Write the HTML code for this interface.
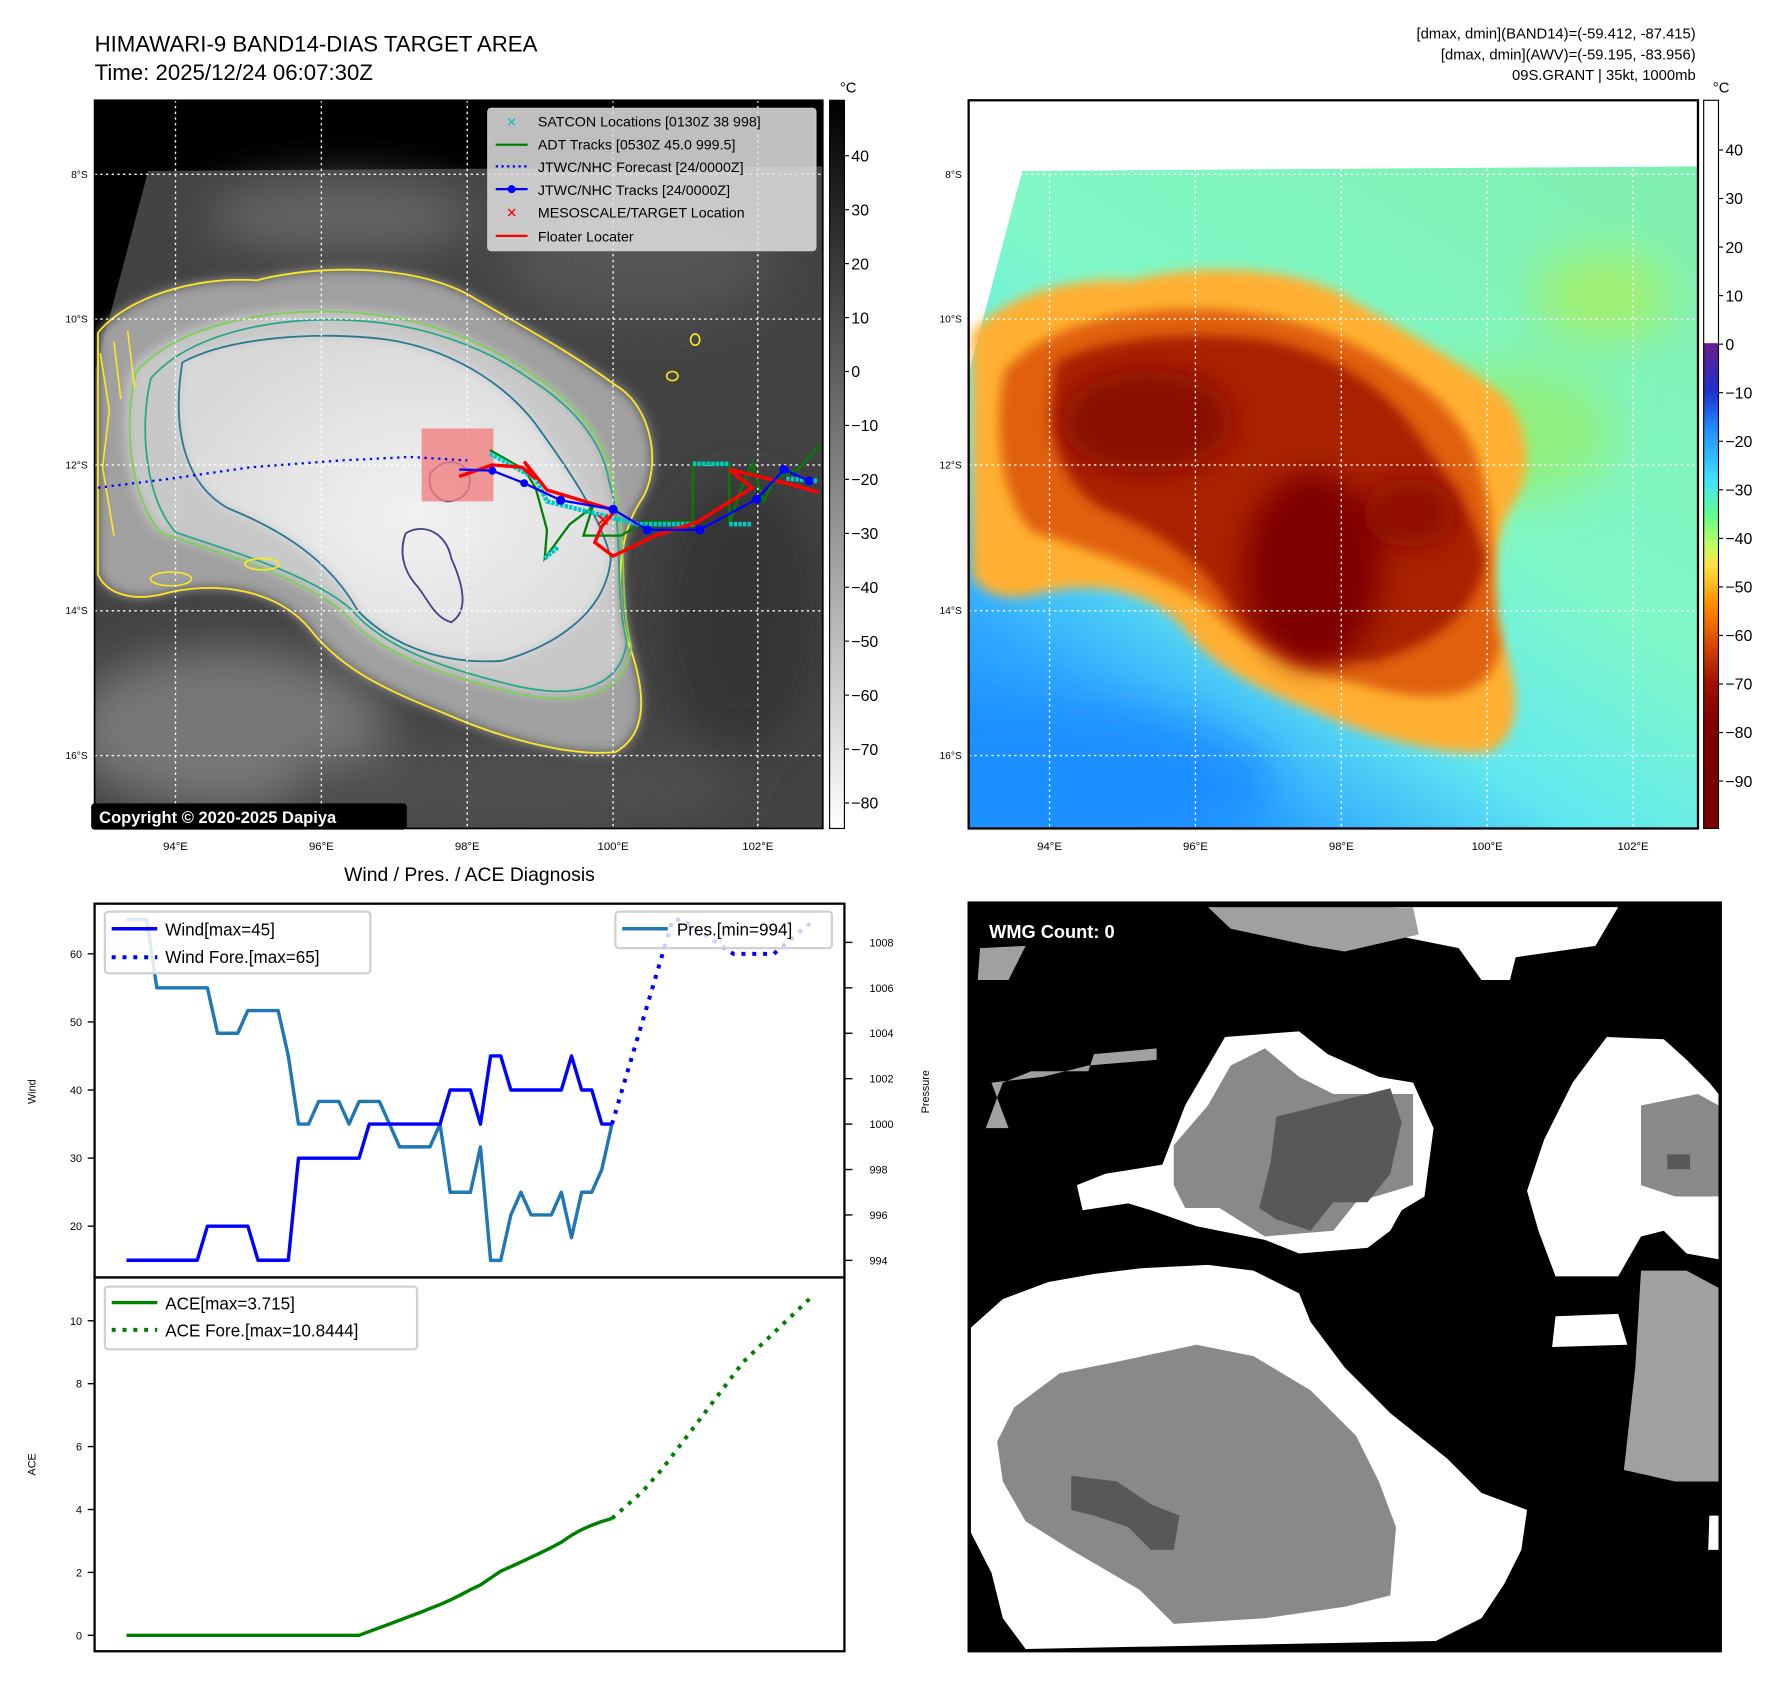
<!DOCTYPE html>
<html><head><meta charset="utf-8"><style>
html,body{margin:0;padding:0;background:#fff;}
svg{display:block;font-family:"Liberation Sans","DejaVu Sans",sans-serif;}
</style></head><body>
<svg id="root" width="1788" height="1690" viewBox="0 0 1569 1483" xmlns="http://www.w3.org/2000/svg">
<defs>
  <filter id="blur6" x="-20%" y="-20%" width="140%" height="140%"><feGaussianBlur stdDeviation="5"/></filter>
  <filter id="blur12" x="-20%" y="-20%" width="140%" height="140%"><feGaussianBlur stdDeviation="12"/></filter>
  <filter id="blur20" x="-30%" y="-30%" width="160%" height="160%"><feGaussianBlur stdDeviation="20"/></filter>
  <clipPath id="clipL"><rect x="83" y="88" width="639" height="639"/></clipPath>
  <clipPath id="clipR"><rect x="850" y="88" width="640" height="639"/></clipPath>
  <clipPath id="clipC"><rect x="83" y="793" width="658" height="656"/></clipPath>
  <path id="swath" d="M130,150 L722,146 L722,727 L83,727 L83,328 Z"/>
  <path id="outer" d="M86,292 C110,262 170,242 225,246 C280,232 360,232 410,258 C450,282 500,308 540,338 C572,356 582,410 562,440 C542,470 540,520 550,560 C565,600 572,642 540,660 C500,664 440,648 390,626 C340,606 300,588 272,552 C244,518 190,508 140,522 C110,528 92,518 86,504 Z"/>
  <path id="mid" d="M115,325 C150,285 225,268 300,272 C362,275 420,296 462,326 C500,350 528,382 534,420 C548,462 538,520 550,565 C545,610 500,618 448,606 C390,592 330,574 298,536 C262,505 192,484 138,466 C110,436 104,370 115,325 Z"/>
  <path id="core" d="M160,318 C200,296 280,290 340,298 C392,306 440,333 470,372 C496,408 526,450 536,490 C532,536 490,566 440,580 C390,583 345,568 314,536 C294,500 260,470 200,446 C164,426 150,380 160,318 Z"/>
  <path id="deep1" d="M356,468 C372,458 392,468 396,490 C406,512 412,536 396,546 C380,542 374,522 364,512 C354,500 350,484 356,468 Z"/>
  <path id="deep2" d="M378,415 C390,400 408,404 412,418 C414,432 404,440 392,440 C382,438 374,428 378,415 Z"/>
  <linearGradient id="cbGray" x1="0" y1="0" x2="0" y2="1"><stop offset="0" stop-color="#000"/><stop offset="1" stop-color="#fff"/></linearGradient>
  <linearGradient id="cbColor" x1="0" y1="0" x2="0" y2="1">
    <stop offset="0" stop-color="#ffffff"/><stop offset="0.333" stop-color="#ffffff"/>
    <stop offset="0.334" stop-color="#6a1e8a"/><stop offset="0.40" stop-color="#2030d0"/>
    <stop offset="0.45" stop-color="#1e8cff"/><stop offset="0.52" stop-color="#40e0ff"/>
    <stop offset="0.57" stop-color="#60ff90"/><stop offset="0.61" stop-color="#c0ff60"/>
    <stop offset="0.64" stop-color="#ffe040"/><stop offset="0.69" stop-color="#ff9000"/>
    <stop offset="0.74" stop-color="#e05000"/><stop offset="0.80" stop-color="#a01000"/>
    <stop offset="0.86" stop-color="#800000"/><stop offset="1" stop-color="#7a0000"/>
  </linearGradient>
  <linearGradient id="bgR" x1="0.9" y1="0" x2="0.2" y2="1">
    <stop offset="0" stop-color="#80f0b0"/><stop offset="0.45" stop-color="#80f8c8"/>
    <stop offset="0.7" stop-color="#60e8f0"/><stop offset="0.88" stop-color="#30a8ff"/><stop offset="1" stop-color="#1e90ff"/>
  </linearGradient>
  <radialGradient id="coreL" cx="0.55" cy="0.55" r="0.6"><stop offset="0" stop-color="#f2f2f2"/><stop offset="1" stop-color="#d8d8d8"/></radialGradient>
</defs>

<!-- Titles -->
<text x="83" y="45" font-size="19.5" fill="#000">HIMAWARI-9 BAND14-DIAS TARGET AREA</text>
<text x="83" y="70" font-size="19.5" fill="#000">Time: 2025/12/24 06:07:30Z</text>
<g font-size="13" text-anchor="end" fill="#000">
  <text x="1488" y="34">[dmax, dmin](BAND14)=(-59.412, -87.415)</text>
  <text x="1488" y="52">[dmax, dmin](AWV)=(-59.195, -83.956)</text>
  <text x="1488" y="70">09S.GRANT | 35kt, 1000mb</text>
</g>

<!-- LEFT MAP -->
<g clip-path="url(#clipL)">
  <rect x="83" y="88" width="639" height="639" fill="#000"/>
  <use href="#swath" fill="#434343"/>
  <g filter="url(#blur20)">
    <ellipse cx="300" cy="190" rx="120" ry="30" fill="#666"/>
    <ellipse cx="560" cy="230" rx="120" ry="50" fill="#555"/>
    <ellipse cx="200" cy="640" rx="140" ry="70" fill="#777"/>
    <ellipse cx="650" cy="540" rx="70" ry="120" fill="#363636"/>
    <ellipse cx="450" cy="690" rx="200" ry="40" fill="#505050"/>
  </g>
  <use href="#outer" fill="#a0a0a0" filter="url(#blur6)"/>
  <use href="#mid" fill="#c8c8c8" filter="url(#blur6)"/>
  <use href="#core" fill="url(#coreL)" filter="url(#blur6)"/>
  <g fill="none" stroke-width="1.6">
    <use href="#outer" stroke="#fde725"/>
    <use href="#mid" stroke="#7ad151" transform="translate(4,2)"/>
    <use href="#mid" stroke="#22a884" transform="translate(22,20) scale(0.96)"/>
    <use href="#core" stroke="#2a788e"/>
    <use href="#deep1" stroke="#414487"/>
    <use href="#deep2" stroke="#414487"/>
  </g>
  <g fill="none" stroke="#fde725" stroke-width="1.4">
    <path d="M88,310 L96,360 L90,410 L100,470 M100,300 L106,350 M112,290 L118,340"/>
    <ellipse cx="150" cy="508" rx="18" ry="6"/><ellipse cx="230" cy="495" rx="15" ry="5"/>
    <ellipse cx="610" cy="298" rx="4" ry="5"/><ellipse cx="590" cy="330" rx="5" ry="4"/>
  </g>
  <g stroke="#fff" stroke-width="1.2" stroke-dasharray="2,3">
    <line x1="154" y1="88" x2="154" y2="727"/><line x1="282" y1="88" x2="282" y2="727"/>
    <line x1="410" y1="88" x2="410" y2="727"/><line x1="538" y1="88" x2="538" y2="727"/>
    <line x1="665" y1="88" x2="665" y2="727"/>
    <line x1="83" y1="153" x2="722" y2="153"/><line x1="83" y1="280" x2="722" y2="280"/>
    <line x1="83" y1="408" x2="722" y2="408"/><line x1="83" y1="536" x2="722" y2="536"/>
    <line x1="83" y1="663" x2="722" y2="663"/>
  </g>
  <rect x="370" y="376" width="63" height="64" fill="#f08080" opacity="0.8"/>
  <polyline points="86,428 150,420 220,410 300,404 360,401 410,404" fill="none" stroke="#0000ff" stroke-width="2" stroke-dasharray="2,4"/>
  <polyline points="430,395 460,412 470,428 480,465 478,490 500,460 520,445 512,470 545,470 565,458 608,458 608,407 640,407 640,460 650,430 660,407 670,440 680,420 700,412 718,392" fill="none" stroke="#008000" stroke-width="2"/>
  <g>
    <path d="M430,398 L470,420 L480,440 L520,450 L560,460 L610,460 M608,407 L640,407 M640,460 L660,460 M690,420 L718,422 M478,490 L490,480" stroke="#00c8c8" stroke-width="4" stroke-dasharray="3,1" fill="none"/>
  </g>
  <polyline points="403,418 432,408 458,410 470,420 460,405 480,430 500,436 540,448 528,462 522,476 538,488 575,470 612,458 660,428 640,412 690,424 718,432" fill="none" stroke="#ff0000" stroke-width="3"/>
  <polyline points="403,412 432,413 460,424 492,439 538,447 568,465 614,465 664,438 688,412 710,422" fill="none" stroke="#0000ff" stroke-width="2"/>
  <g fill="#0000ff">
    <circle cx="432" cy="413" r="3.5"/><circle cx="460" cy="424" r="3.5"/><circle cx="492" cy="439" r="4"/>
    <circle cx="538" cy="447" r="4"/><circle cx="568" cy="465" r="4"/><circle cx="614" cy="465" r="4"/>
    <circle cx="664" cy="438" r="4"/><circle cx="688" cy="412" r="4"/><circle cx="710" cy="422" r="4"/>
  </g>
  <text x="529" y="462" font-size="16" font-weight="bold" fill="#ff0000" text-anchor="middle">✕</text>
</g>
<rect x="83" y="88" width="639" height="639" fill="none" stroke="#000" stroke-width="1.5"/>

<g>
  <rect x="428" y="95" width="288" height="125" rx="3" fill="#e0e0e0" fill-opacity="0.85" stroke="#ccc"/>
  <g font-size="12.5" fill="#000">
    <text x="449" y="111" fill="#00c0c0" font-weight="bold" text-anchor="middle" font-size="11">✕</text>
    <text x="472" y="111">SATCON Locations [0130Z 38 998]</text>
    <line x1="435" y1="127" x2="463" y2="127" stroke="#008000" stroke-width="2"/>
    <text x="472" y="131">ADT Tracks [0530Z 45.0 999.5]</text>
    <line x1="435" y1="146" x2="463" y2="146" stroke="#0000ff" stroke-width="2" stroke-dasharray="2,3"/>
    <text x="472" y="151">JTWC/NHC Forecast [24/0000Z]</text>
    <line x1="435" y1="166" x2="463" y2="166" stroke="#0000ff" stroke-width="2"/><circle cx="449" cy="166" r="3.5" fill="#0000ff"/>
    <text x="472" y="171">JTWC/NHC Tracks [24/0000Z]</text>
    <text x="449" y="191" fill="#ff0000" font-weight="bold" text-anchor="middle" font-size="12">✕</text>
    <text x="472" y="191">MESOSCALE/TARGET Location</text>
    <line x1="435" y1="207" x2="463" y2="207" stroke="#ff0000" stroke-width="2"/>
    <text x="472" y="212">Floater Locater</text>
  </g>
</g>
<rect x="80" y="705" width="277" height="23" rx="3" fill="#000"/>
<text x="87" y="722" font-size="14.5" font-weight="bold" fill="#fff">Copyright © 2020-2025 Dapiya</text>

<g font-size="9" fill="#000" text-anchor="end">
  <text x="77" y="156">8°S</text><text x="77" y="283">10°S</text><text x="77" y="411">12°S</text><text x="77" y="539">14°S</text><text x="77" y="666">16°S</text>
</g>
<g font-size="9" fill="#000" text-anchor="end">
  <text x="844" y="156">8°S</text><text x="844" y="283">10°S</text><text x="844" y="411">12°S</text><text x="844" y="539">14°S</text><text x="844" y="666">16°S</text>
</g>
<g font-size="10" fill="#000" text-anchor="middle">
  <text x="154" y="746">94°E</text><text x="282" y="746">96°E</text><text x="410" y="746">98°E</text><text x="538" y="746">100°E</text><text x="665" y="746">102°E</text>
</g>
<g font-size="10" fill="#000" text-anchor="middle">
  <text x="921" y="746">94°E</text><text x="1049" y="746">96°E</text><text x="1177" y="746">98°E</text><text x="1305" y="746">100°E</text><text x="1433" y="746">102°E</text>
</g>

<rect x="728" y="88" width="13" height="639" fill="url(#cbGray)" stroke="#000" stroke-width="1"/>
<text x="737" y="81" font-size="13">°C</text>
<g id="cbLTicks" font-size="14" fill="#000"></g>

<!-- RIGHT MAP -->
<g clip-path="url(#clipR)">
  <rect x="850" y="88" width="640" height="639" fill="#fff"/>
  <g transform="translate(767,0)">
    <use href="#swath" fill="url(#bgR)"/>
    <g filter="url(#blur20)">
      <ellipse cx="560" cy="380" rx="90" ry="60" fill="#90f080"/>
      <ellipse cx="150" cy="690" rx="200" ry="70" fill="#1e90ff"/>
      <ellipse cx="640" cy="260" rx="60" ry="40" fill="#a0f070"/>
    </g>
    <use href="#outer" fill="#ffb030" filter="url(#blur6)"/>
    <use href="#mid" fill="#e06010" filter="url(#blur6)"/>
    <use href="#core" fill="#a82000" filter="url(#blur6)"/>
    <g filter="url(#blur12)">
      <ellipse cx="385" cy="500" rx="60" ry="85" fill="#800000"/>
      <ellipse cx="240" cy="370" rx="75" ry="45" fill="#8a0800"/>
      <ellipse cx="470" cy="450" rx="40" ry="30" fill="#901000"/>
    </g>
  </g>
  <g stroke="#fff" stroke-width="1.2" stroke-dasharray="2,3">
    <line x1="921" y1="88" x2="921" y2="727"/><line x1="1049" y1="88" x2="1049" y2="727"/>
    <line x1="1177" y1="88" x2="1177" y2="727"/><line x1="1305" y1="88" x2="1305" y2="727"/>
    <line x1="1433" y1="88" x2="1433" y2="727"/>
    <line x1="850" y1="153" x2="1490" y2="153"/><line x1="850" y1="280" x2="1490" y2="280"/>
    <line x1="850" y1="408" x2="1490" y2="408"/><line x1="850" y1="536" x2="1490" y2="536"/>
    <line x1="850" y1="663" x2="1490" y2="663"/>
  </g>
</g>
<rect x="850" y="88" width="640" height="639" fill="none" stroke="#000" stroke-width="2"/>
<rect x="1495" y="88" width="13" height="639" fill="url(#cbColor)" stroke="#000" stroke-width="1"/>
<text x="1503" y="81" font-size="13">°C</text>
<g id="cbRTicks" font-size="14" fill="#000"></g>

<!-- WMG panel -->
<g>
  <rect x="850" y="792" width="660" height="657" fill="#000"/>
  <g fill="#fff">
    <polygon points="852,1165 880,1140 920,1125 960,1118 1000,1113 1060,1110 1100,1115 1140,1135 1150,1160 1180,1200 1220,1240 1270,1280 1300,1310 1340,1325 1335,1360 1320,1390 1300,1420 1260,1440 900,1447 880,1420 870,1380 852,1345"/>
    <polygon points="1075,910 1140,905 1165,925 1210,945 1240,950 1258,990 1250,1050 1230,1062 1220,1080 1200,1095 1140,1100 1110,1088 1050,1076 1010,1062 990,1056 950,1062 945,1040 970,1030 1020,1022 1040,970"/>
    <polygon points="1410,910 1460,912 1480,930 1500,950 1508,960 1508,1105 1480,1100 1460,1080 1440,1085 1420,1120 1365,1120 1350,1080 1340,1045 1355,1000 1380,950 1395,930"/>
    <polygon points="1365,1155 1420,1153 1428,1180 1362,1182"/>
    <polygon points="1500,1330 1508,1330 1508,1360 1499,1360"/>
    <polygon points="1225,796 1420,796 1400,830 1330,840 1325,860 1300,860 1280,832 1230,822"/>
  </g>
  <g fill="#898989">
    <polygon points="875,1265 890,1235 930,1205 980,1195 1050,1180 1100,1190 1150,1220 1190,1260 1210,1300 1225,1340 1220,1400 1180,1410 1110,1420 1030,1425 1000,1395 940,1360 900,1335 880,1300"/>
    <polygon points="1030,1005 1060,970 1080,935 1110,920 1140,945 1170,960 1240,960 1240,1040 1190,1055 1170,1080 1110,1085 1070,1060 1040,1060 1030,1040"/>
    <polygon points="1440,970 1490,960 1508,970 1508,1050 1470,1050 1440,1040 1440,1000"/>
  </g>
  <g fill="#a0a0a0">
    <polygon points="1440,1115 1480,1115 1508,1130 1508,1300 1470,1300 1425,1290 1435,1200"/>
    <polygon points="1060,796 1240,796 1245,820 1180,835 1150,830 1080,815"/>
    <polygon points="860,832 900,830 885,860 858,860"/>
    <polygon points="870,950 915,945 955,935 1015,930 1015,920 960,925 955,940 905,940 880,950 865,990 885,990"/>
  </g>
  <g fill="#585858">
    <polygon points="1120,980 1160,970 1220,955 1230,985 1220,1030 1200,1055 1170,1055 1150,1080 1120,1070 1105,1060 1115,1020"/>
    <polygon points="940,1295 980,1300 1010,1320 1035,1330 1030,1360 1010,1360 990,1340 960,1330 940,1325"/>
    <rect x="1463" y="1013" width="20" height="13"/>
  </g>
  <rect x="850" y="792" width="660" height="657" fill="none" stroke="#000" stroke-width="2"/>
  <text x="868" y="823" font-size="16" font-weight="bold" fill="#fff">WMG Count: 0</text>
</g>

<!-- Diagnosis chart -->
<text x="412" y="773" font-size="17" text-anchor="middle" fill="#000">Wind / Pres. / ACE Diagnosis</text>
<g id="chart">
  <rect x="83" y="793" width="658" height="328" fill="#fff" stroke="#000" stroke-width="2"/>
  <rect x="83" y="1121" width="658" height="328" fill="#fff" stroke="#000" stroke-width="2"/>
  <g id="axes" font-size="9.5" fill="#000"></g>
  <g id="marks" clip-path="url(#clipC)"></g>
  <text transform="translate(31,958) rotate(-90)" font-size="9.5" text-anchor="middle">Wind</text>
  <text transform="translate(815,958) rotate(-90)" font-size="9.5" text-anchor="middle">Pressure</text>
  <text transform="translate(31,1285) rotate(-90)" font-size="9.5" text-anchor="middle">ACE</text>
  <g>
    <rect x="92" y="800" width="233" height="54" rx="3" fill="#fff" fill-opacity="0.85" stroke="#d0d0d0" stroke-width="2"/>
    <line x1="98" y1="815" x2="138" y2="815" stroke="#0000ff" stroke-width="3"/>
    <text x="145" y="821" font-size="15">Wind[max=45]</text>
    <line x1="98" y1="840" x2="138" y2="840" stroke="#0000ff" stroke-width="3.5" stroke-dasharray="3.5,6"/>
    <text x="145" y="845" font-size="15">Wind Fore.[max=65]</text>
  </g>
  <g>
    <rect x="540" y="800" width="190" height="32" rx="3" fill="#fff" fill-opacity="0.8" stroke="#d0d0d0" stroke-width="2"/>
    <line x1="546" y1="815" x2="586" y2="815" stroke="#1f77b4" stroke-width="3"/>
    <text x="594" y="821" font-size="15">Pres.[min=994]</text>
  </g>
  <g>
    <rect x="92" y="1129" width="274" height="55" rx="3" fill="#fff" fill-opacity="0.85" stroke="#d0d0d0" stroke-width="2"/>
    <line x1="98" y1="1143" x2="138" y2="1143" stroke="#008000" stroke-width="3"/>
    <text x="145" y="1149" font-size="15">ACE[max=3.715]</text>
    <line x1="98" y1="1167" x2="138" y2="1167" stroke="#008000" stroke-width="3.5" stroke-dasharray="3.5,6"/>
    <text x="145" y="1173" font-size="15">ACE Fore.[max=10.8444]</text>
  </g>
</g>

<script>
const windVals = [15,15,15,15,15,15,15,15,20,20,20,20,20,15,15,15,15,30,30,30,30,30,30,30,35,35,35,35,35,35,35,35,40,40,40,35,45,45,40,40,40,40,40,40,45,40,40,35,35];
const presVals = [1009,1009,1009,1006,1006,1006,1006,1006,1006,1004,1004,1004,1005,1005,1005,1005,1003,1000,1000,1001,1001,1001,1000,1001,1001,1001,1000,999,999,999,999,1000,997,997,997,999,994,994,996,997,996,996,996,997,995,997,997,998,1000];
const aceVals = [0,0,0,0,0,0,0,0,0,0,0,0,0,0,0,0,0,0,0,0,0,0,0,0,0.12,0.24,0.36,0.48,0.6,0.72,0.85,0.98,1.12,1.28,1.45,1.6,1.82,2.04,2.18,2.33,2.48,2.63,2.79,2.96,3.18,3.36,3.5,3.62,3.715];
const windForeX = [48,54,55,60,64,68];
const windForeVals = [35,65,65,60,60,65];
const aceForeX = [48,51,53,57,61,68];
const aceForeVals = [3.715,4.56,5.3,7.0,8.7,10.84];
const windTicks = [20,30,40,50,60];
const presTicks = [994,996,998,1000,1002,1004,1006,1008];
const aceTicks = [0,2,4,6,8,10];
const cbLeftTicks = [40,30,20,10,0,-10,-20,-30,-40,-50,-60,-70,-80];
const cbRightTicks = [40,30,20,10,0,-10,-20,-30,-40,-50,-60,-70,-80,-90];

const NS='http://www.w3.org/2000/svg';
function xs(i){return 111 + i*8.875;}
function yw(v){return 1076 - (v-20)*5.975;}
function yp(p){return 1106 - (p-994)*19.93;}
function ya(a){return 1435 - a*27.6;}
function cbl(v){return 326 - v*4.733;}
function cbr(v){return 302 - v*4.26;}

const marks=document.getElementById('marks');
const axes=document.getElementById('axes');
function line(pts, color, w, dash, name){
  const p=document.createElementNS(NS,'polyline');
  p.setAttribute('points', pts.map(q=>q[0].toFixed(1)+','+q[1].toFixed(1)).join(' '));
  p.setAttribute('fill','none'); p.setAttribute('stroke',color); p.setAttribute('stroke-width',w);
  p.setAttribute('stroke-linejoin','round');
  if(dash) p.setAttribute('stroke-dasharray',dash);
  
  
  marks.appendChild(p);
}
line(presVals.map((v,i)=>[xs(i),yp(v)]), '#1f77b4', 3, null, 'pressure-line');
line(windVals.map((v,i)=>[xs(i),yw(v)]), '#0000ff', 3, null, 'wind-line');
line(windForeX.map((x,i)=>[xs(x),yw(windForeVals[i])]), '#0000ff', 3.5, '3.5,6', 'wind-forecast-line');
line(aceVals.map((v,i)=>[xs(i),ya(v)]), '#008000', 3, null, 'ace-line');
line(aceForeX.map((x,i)=>[xs(x),ya(aceForeVals[i])]), '#008000', 3.5, '3.5,6', 'ace-forecast-line');

function tick(x1,y1,x2,y2){
  const l=document.createElementNS(NS,'line');
  l.setAttribute('x1',x1);l.setAttribute('y1',y1);l.setAttribute('x2',x2);l.setAttribute('y2',y2);
  l.setAttribute('stroke','#000');l.setAttribute('stroke-width','1.2');
  axes.appendChild(l);
}
function label(parent,x,y,t,anchor,name){
  const e=document.createElementNS(NS,'text');
  e.setAttribute('x',x);e.setAttribute('y',y);e.setAttribute('text-anchor',anchor);
  e.textContent=t;
  
  
  parent.appendChild(e);
}
windTicks.forEach(v=>{const y=yw(v);tick(77,y,83,y);label(axes,72,y+3.5,String(v),'end','wind-tick-label');});
presTicks.forEach(v=>{const y=yp(v);tick(741,y,748,y);label(axes,763,y+3.5,String(v),'start','pressure-tick-label');});
aceTicks.forEach(v=>{const y=ya(v);tick(77,y,83,y);label(axes,72,y+3.5,String(v),'end','ace-tick-label');});

const cL=document.getElementById('cbLTicks');
cbLeftTicks.forEach(v=>{
  const y=cbl(v);
  const l=document.createElementNS(NS,'line');
  l.setAttribute('x1',741);l.setAttribute('x2',745);l.setAttribute('y1',y);l.setAttribute('y2',y);l.setAttribute('stroke','#000');
  cL.appendChild(l);
  label(cL,747,y+5,String(v).replace('-','\u2212'),'start','colorbar-tick-left');
});
const cR=document.getElementById('cbRTicks');
cbRightTicks.forEach(v=>{
  const y=cbr(v);
  const l=document.createElementNS(NS,'line');
  l.setAttribute('x1',1508);l.setAttribute('x2',1512);l.setAttribute('y1',y);l.setAttribute('y2',y);l.setAttribute('stroke','#000');
  cR.appendChild(l);
  label(cR,1514,y+5,String(v).replace('-','\u2212'),'start','colorbar-tick-right');
});
</script>
</svg>
</body></html>
